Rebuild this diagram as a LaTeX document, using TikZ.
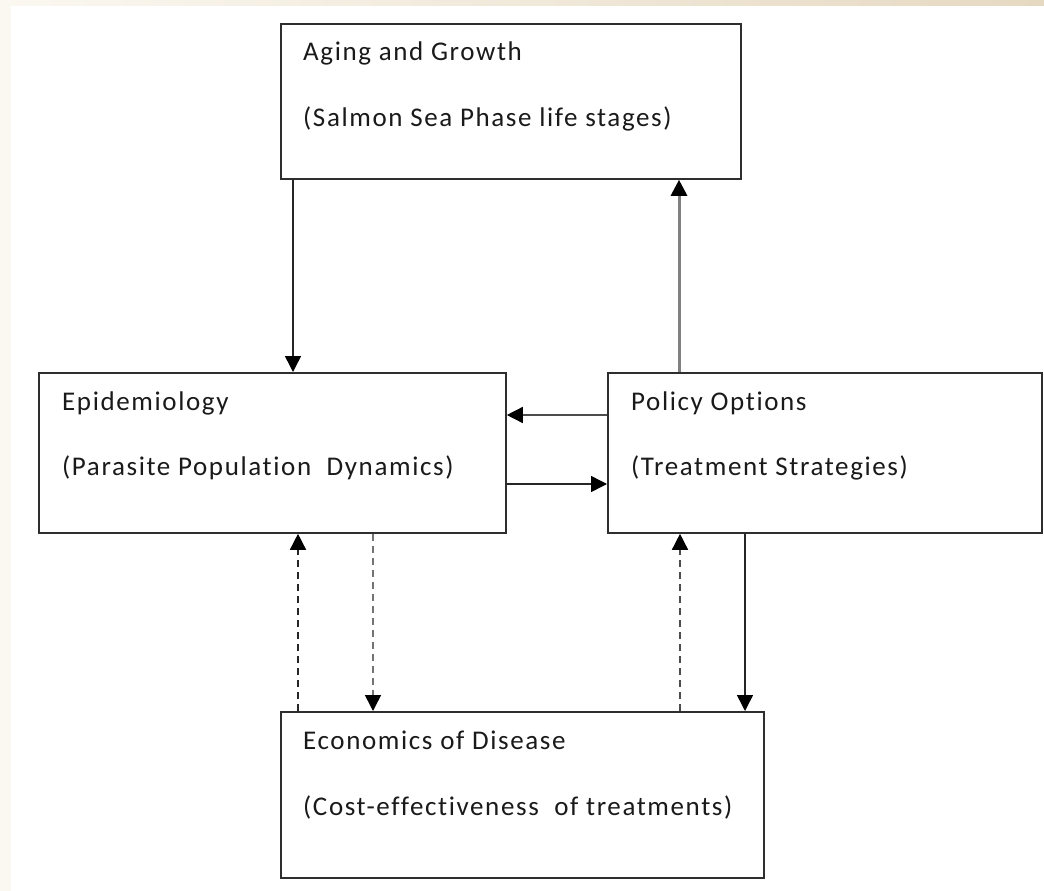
\documentclass[tikz,border=0pt]{standalone}
\usepackage{fontspec}
\setmainfont{Carlito}[LetterSpace=6,Ligatures=NoCommon]
\usetikzlibrary{arrows.meta}
\definecolor{txt}{HTML}{1A1A1A}
\definecolor{edge}{HTML}{2E2E2E}
\definecolor{beigeA}{HTML}{FBF8F1}
\definecolor{beigeB}{HTML}{E6D9C2}
\begin{document}
\begin{tikzpicture}[x={(1pt,0)},y={(0,-1pt)},
  box/.style={draw=edge, line width=1.8pt, fill=white, inner sep=0pt, anchor=north west},
  lbl/.style={anchor=base west, inner sep=0pt, text=txt, font=\fontsize{27}{31}\selectfont},
  arr/.style={draw=black!85, line width=1.5pt, -{Triangle[length=16pt,width=16pt,color=black]}},
  darr/.style={arr, dashed, dash pattern=on 7pt off 5pt}]
\useasboundingbox (0,0) rectangle (1044,891);
\fill[white] (0,0) rectangle (1044,891);
\shade[left color=beigeA, right color=beigeB] (0,0) rectangle (1044,6);
\fill[beigeA] (0,6) rectangle (11,891);
% boxes
\node[box, minimum width=460pt, minimum height=155pt] (ag) at (280,23) {};
\node[box, minimum width=467pt, minimum height=160pt] (epi) at (38,372) {};
\node[box, minimum width=434pt, minimum height=160pt] (pol) at (607,372) {};
\node[box, minimum width=483pt, minimum height=166pt] (eco) at (280,711) {};
% labels
\node[lbl] (t1) at (303,60) {Aging and Growth};
\node[lbl] (t2) at (303,126) {(Salmon Sea Phase life stages)};
\node[lbl] (t3) at (62,410) {Epidemiology};
\node[lbl] (t4) at (62,475) {(Parasite Population\ \ Dynamics)};
\node[lbl] (t5) at (631,410) {Policy Options};
\node[lbl] (t6) at (631,475) {(Treatment Strategies)};
\node[lbl] (t7) at (303,749) {Economics of Disease};
\node[lbl] (t8) at (303,815) {(Cost-effectiveness\ \ of treatments)};
% guide coordinates
\coordinate (c1) at (293,0);
\coordinate (c2) at (679,0);
\coordinate (c3) at (0,415);
\coordinate (c4) at (0,484);
\coordinate (c5) at (298,0);
\coordinate (c6) at (373,0);
\coordinate (c7) at (680,0);
\coordinate (c8) at (745,0);
% connectors
\draw[arr] (ag.south -| c1) -- (epi.north -| c1);
\draw[arr, draw=black!50, line width=3pt] (pol.north -| c2) -- (ag.south -| c2);
\draw[arr, draw=black!70] (pol.west |- c3) -- (epi.east |- c3);
\draw[arr] (epi.east |- c4) -- (pol.west |- c4);
\draw[darr] (eco.north -| c5) -- (epi.south -| c5);
\draw[darr, draw=black!55] (epi.south -| c6) -- (eco.north -| c6);
\draw[darr, draw=black!70] (eco.north -| c7) -- (pol.south -| c7);
\draw[arr] (pol.south -| c8) -- (eco.north -| c8);
\end{tikzpicture}
\end{document}
